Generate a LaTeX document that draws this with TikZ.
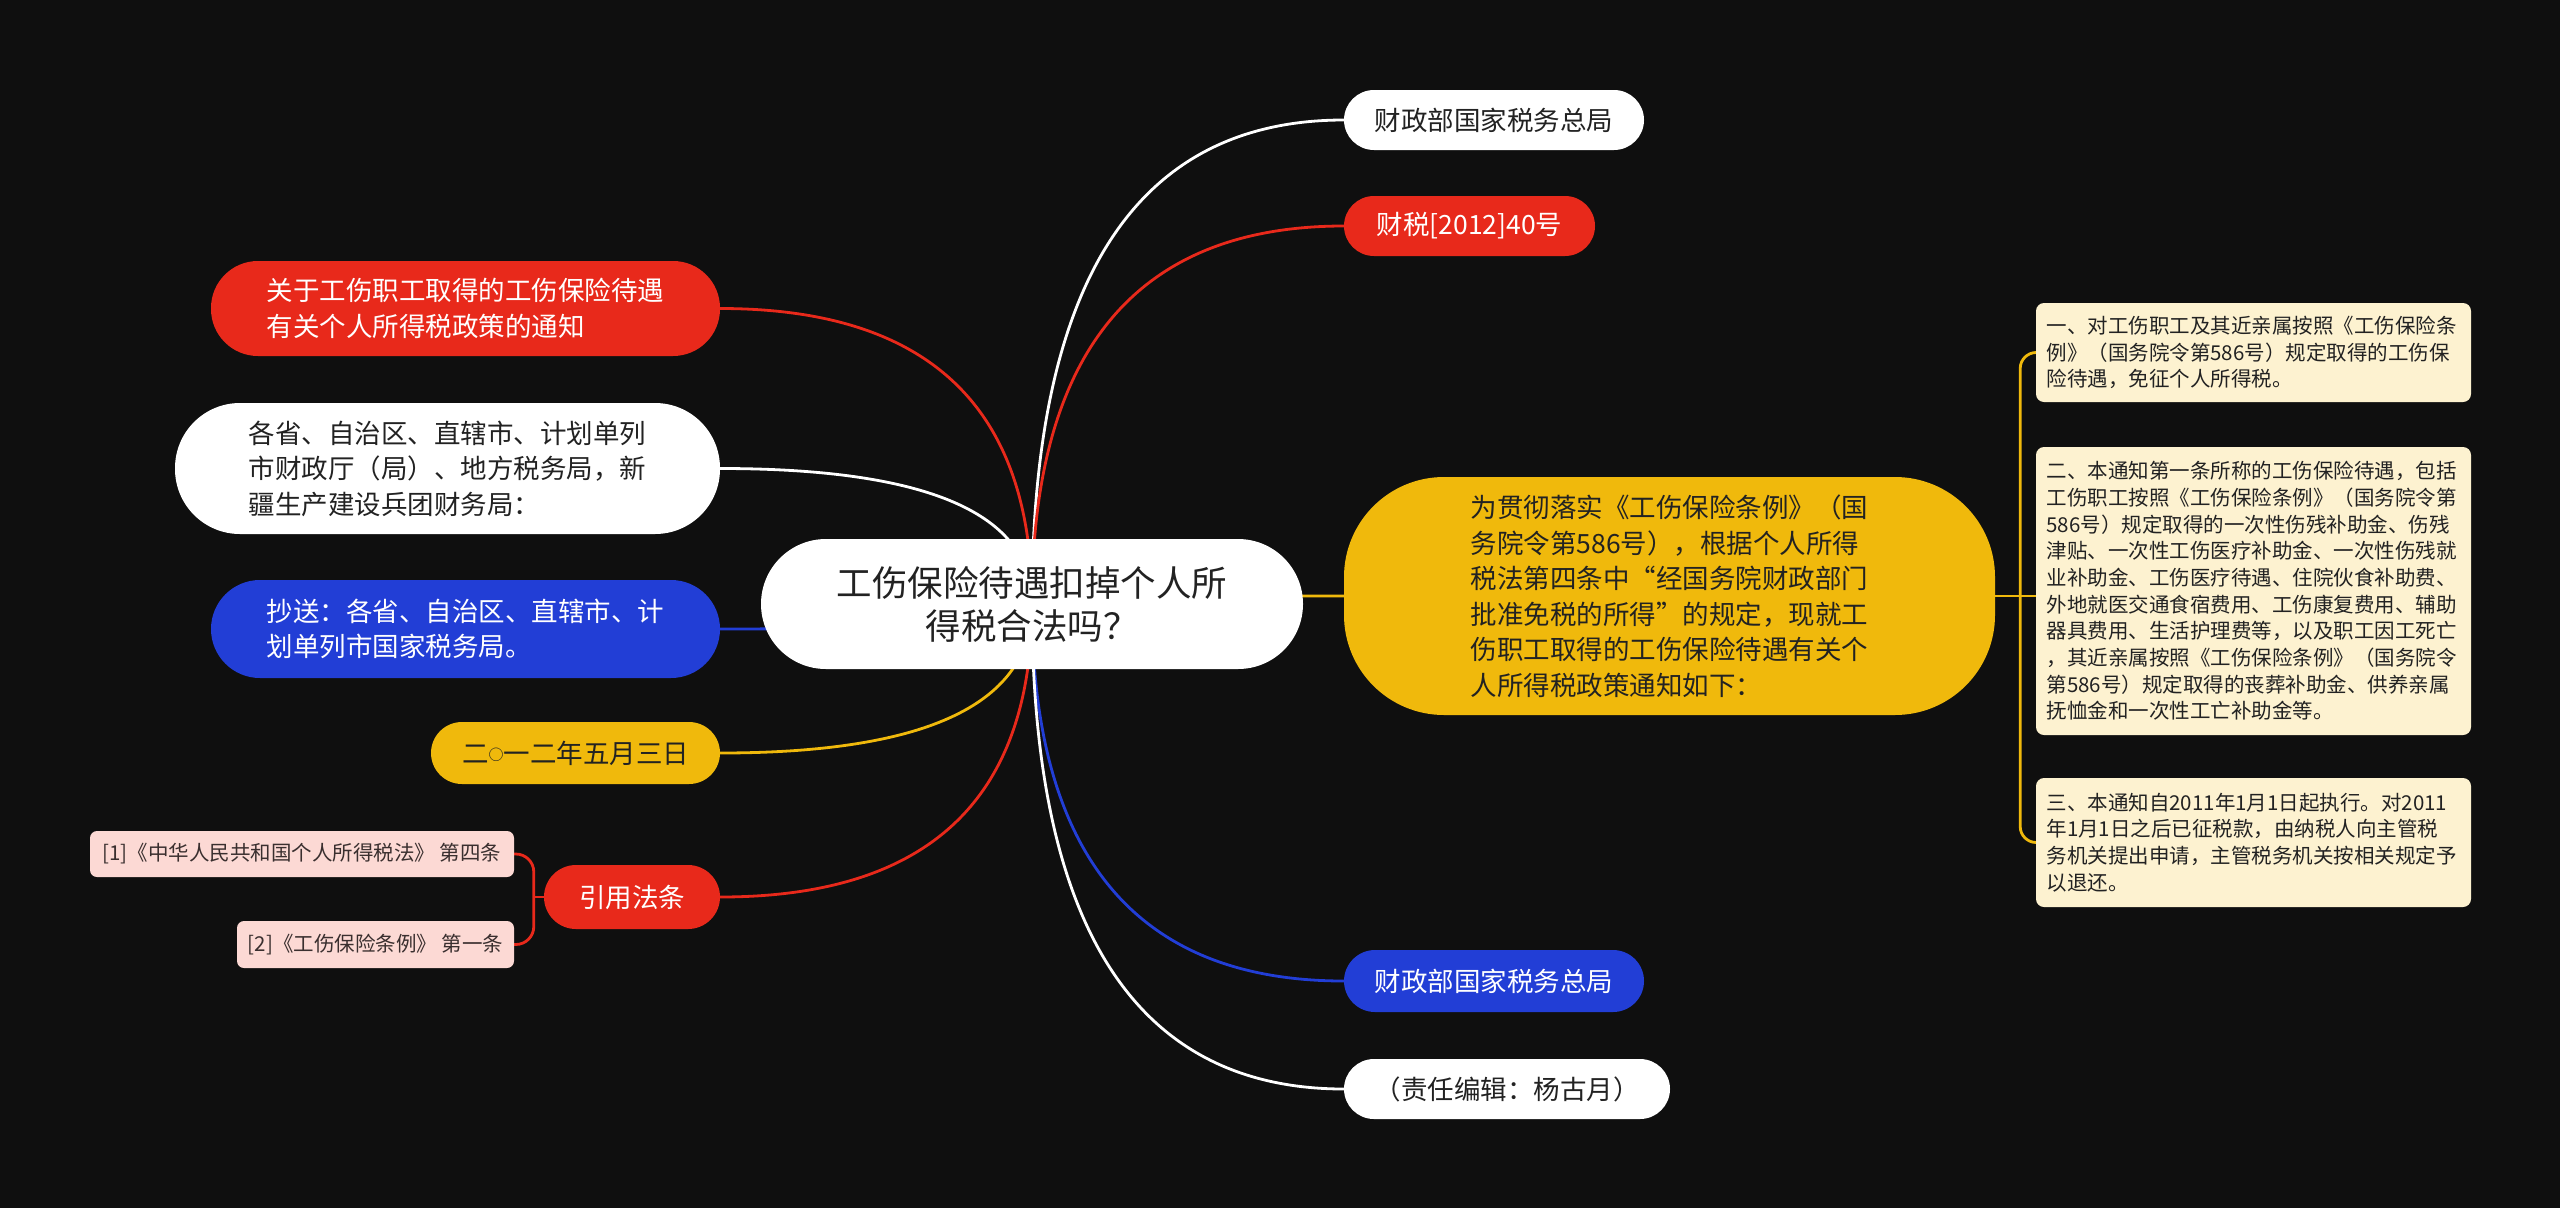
\documentclass[tikz,border=0pt]{standalone}
\usepackage{fontspec}
\setmainfont{Noto Sans CJK SC}
\usetikzlibrary{calc}

\definecolor{bgcol}{HTML}{0F0F0F}
\definecolor{redc}{HTML}{E8291B}
\definecolor{bluec}{HTML}{223ED6}
\definecolor{yelc}{HTML}{F0B90C}
\definecolor{creamc}{HTML}{FDF2D0}
\definecolor{pinkc}{HTML}{FCD9D4}
\definecolor{inkc}{HTML}{222222}
\definecolor{citec}{HTML}{3A2F2F}

\pgfdeclarelayer{back}
\pgfdeclarelayer{links}
\pgfsetlayers{back,links,main}

\newcommand{\smallring}{\raisebox{0.1em}{\fontsize{15}{15}\selectfont ○}}

\tikzset{
  pill/.style={inner sep=0pt, align=left, text=inkc, font=\fontsize{26.5}{35.5}\selectfont},
  note/.style={fill=creamc, rounded corners=8pt, inner sep=0pt, text width=414pt, minimum width=435pt, align=left, text=inkc, font=\fontsize{20.5}{26.7}\selectfont},
  cite/.style={fill=pinkc, rounded corners=7pt, inner sep=0pt, text=citec, font=\fontsize{20.5}{24}\selectfont},
  wire/.style={draw=#1, line width=2.8pt},
  branch/.style={to path={.. controls ($(\tikztostart)!0.667!(\tikztostart |- \tikztotarget)$) and ($(\tikztotarget)!0.667!(\tikztostart |- \tikztotarget)$) .. (\tikztotarget)}},
}

\begin{document}
\begin{tikzpicture}[x=1pt,y=-1pt]

	\useasboundingbox (0,0) rectangle (2560,1208);
	\begin{pgfonlayer}{back}
	\fill[bgcol] (0,0) rectangle (2560,1208);
	\end{pgfonlayer}

	\node[pill, fill=white, minimum width=542pt, minimum height=130pt, rounded corners=65pt, align=center, font=\fontsize{35.5}{43}\selectfont] (root) at (1032,604) {工伤保险待遇扣掉个人所\\得税合法吗？};

	\node[pill, fill=white, minimum width=300pt, minimum height=60pt, rounded corners=30pt] (tax1) at (1494,120) {财政部国家税务总局};
	\node[pill, fill=redc, text=white, minimum width=251pt, minimum height=60pt, rounded corners=30pt] (doc) at (1469.5,226) {财税[2012]40号};
	\node[pill, fill=yelc, minimum width=651pt, minimum height=238pt, rounded corners=100pt] (intro) at (1669.5,596) {为贯彻落实《工伤保险条例》（国\\务院令第586号），根据个人所得\\税法第四条中“经国务院财政部门\\批准免税的所得”的规定，现就工\\伤职工取得的工伤保险待遇有关个\\人所得税政策通知如下：};
	\node[pill, fill=bluec, text=white, minimum width=300pt, minimum height=62pt, rounded corners=31pt] (tax2) at (1494,981) {财政部国家税务总局};
	\node[pill, fill=white, minimum width=326pt, minimum height=60pt, rounded corners=30pt] (editor) at (1507,1089) {（责任编辑：杨古月）};

	\node[pill, fill=redc, text=white, minimum width=509pt, minimum height=95pt, rounded corners=47pt] (title) at (465.5,308.5) {关于工伤职工取得的工伤保险待遇\\有关个人所得税政策的通知};
	\node[pill, fill=white, minimum width=545pt, minimum height=131pt, rounded corners=65pt] (dest) at (447.5,468.5) {各省、自治区、直辖市、计划单列\\市财政厅（局）、地方税务局，新\\疆生产建设兵团财务局：};
	\node[pill, fill=bluec, text=white, minimum width=509pt, minimum height=98pt, rounded corners=49pt] (copy) at (465.5,629) {抄送：各省、自治区、直辖市、计\\划单列市国家税务局。};
	\node[pill, fill=yelc, minimum width=289pt, minimum height=62pt, rounded corners=31pt] (date) at (575.5,753) {二\smallring 一二年五月三日};
	\node[pill, fill=redc, text=white, minimum width=176pt, minimum height=64pt, rounded corners=32pt] (law) at (632,897) {引用法条};

	\node[cite, minimum width=424pt, minimum height=46pt] (law1) at (302,854) {[1]《中华人民共和国个人所得税法》 第四条};
	\node[cite, minimum width=277pt, minimum height=47pt] (law2) at (375.5,944.5) {[2]《工伤保险条例》 第一条};

	\node[note, minimum height=99pt] (art1) at (2253.5,352.5) {一、对工伤职工及其近亲属按照《工伤保险条\\例》（国务院令第586号）规定取得的工伤保\\险待遇，免征个人所得税。};
	\node[note, minimum height=288pt] (art2) at (2253.5,591) {二、本通知第一条所称的工伤保险待遇，包括\\工伤职工按照《工伤保险条例》（国务院令第\\586号）规定取得的一次性伤残补助金、伤残\\津贴、一次性工伤医疗补助金、一次性伤残就\\业补助金、工伤医疗待遇、住院伙食补助费、\\外地就医交通食宿费用、工伤康复费用、辅助\\器具费用、生活护理费等，以及职工因工死亡\\，其近亲属按照《工伤保险条例》（国务院令\\第586号）规定取得的丧葬补助金、供养亲属\\抚恤金和一次性工亡补助金等。};
	\node[note, minimum height=129pt] (art3) at (2253.5,842.5) {三、本通知自2011年1月1日起执行。对2011\\年1月1日之后已征税款，由纳税人向主管税\\务机关提出申请，主管税务机关按相关规定予\\以退还。};

	\begin{pgfonlayer}{links}
	\draw[wire=white] (root.center) to[branch] (tax1.west);
	\draw[wire=redc] (root.center) to[branch] (doc.west);
	\draw[wire=yelc] (root.center) to[branch] (intro.west);
	\draw[wire=bluec] (root.center) to[branch] (tax2.west);
	\draw[wire=white] (root.center) to[branch] (editor.west);
	\draw[wire=redc] (root.center) to[branch] (title.east);
	\draw[wire=white] (root.center) to[branch] (dest.east);
	\draw[wire=bluec] (root.center) to[branch] (copy.east);
	\draw[wire=yelc] (root.center) to[branch] (date.east);
	\draw[wire=redc] (root.center) to[branch] (law.east);

	\coordinate (lawfork) at ($(law.west)+(-10,0)$);
	\draw[wire=redc] (law.west) -- (lawfork);
	\draw[wire=redc, rounded corners=18pt] (law1.east) -| (lawfork) |- (law2.east);

	\coordinate (artfork) at ($(intro.east)+(25,0)$);
	\draw[wire=yelc] (intro.east) -- (intro.east -| art2.west);
	\draw[wire=yelc, rounded corners=16pt] (art1.west) -| (artfork) |- (art3.west);
	\end{pgfonlayer}

\end{tikzpicture}
\end{document}
